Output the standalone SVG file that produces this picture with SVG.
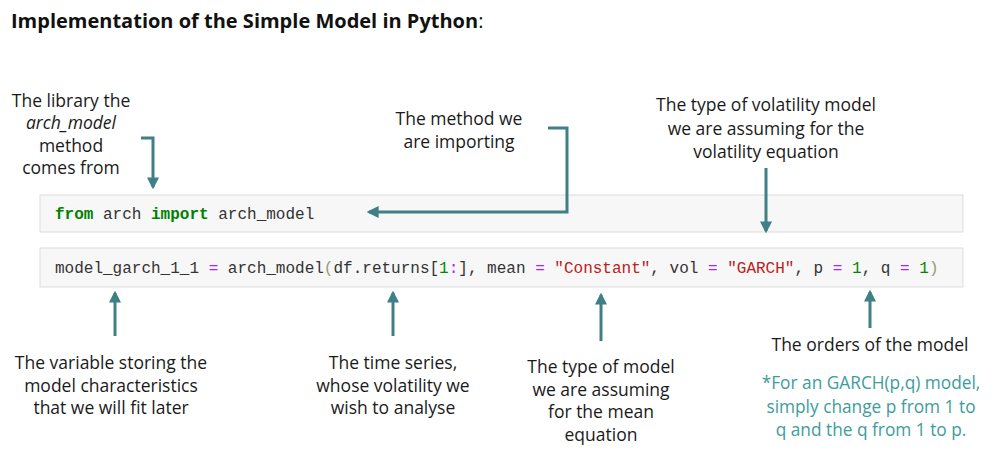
<svg xmlns="http://www.w3.org/2000/svg" width="999" height="456" viewBox="0 0 999 456">
<defs>
<marker id="ah" viewBox="0 0 10 10" refX="8" refY="5" markerWidth="4" markerHeight="4" orient="auto-start-reverse" markerUnits="strokeWidth">
<path d="M0,0 L10,5 L0,10 z" fill="#3f7f86"/>
</marker>
<style>
.t{font-family:"Open Sans","Noto Sans",sans-serif;font-size:17.5px;fill:#1a1a1a;text-anchor:middle}
.n{font-family:"Open Sans","Noto Sans",sans-serif;font-size:17.3px;fill:#3d9c9c;text-anchor:middle}
.code{font-family:"Liberation Mono","DejaVu Sans Mono",monospace;font-size:16px;fill:#333}
.kw{fill:#008000;font-weight:bold}
.op{fill:#aa22ff}
.num{fill:#008800}
.str{fill:#ba2121}
.br{fill:#999977}
.box{fill:#f7f7f7;stroke:#dddddd;stroke-width:1}
.ar{fill:none;stroke:#3f7f86;stroke-width:3;marker-end:url(#ah)}
</style>
</defs>
<rect width="999" height="456" fill="#ffffff"/>
<g id="title"><text x="11" y="28" font-family="'Open Sans','Noto Sans',sans-serif" font-size="20" fill="#111"><tspan font-weight="bold">Implementation of the Simple Model in Python</tspan>:</text></g>

<g id="code1"><rect class="box" x="40" y="195" width="923" height="37"/>
<text class="code" x="55" y="219"><tspan class="kw">from</tspan> arch <tspan class="kw">import</tspan> arch_model</text></g>

<g id="code2"><rect class="box" x="40" y="248" width="923" height="39"/>
<text class="code" x="55" y="273">model_garch_1_1 <tspan class="op">=</tspan> arch_model<tspan class="br">(</tspan>df.returns[<tspan class="num">1</tspan><tspan class="op">:</tspan>], mean <tspan class="op">=</tspan> <tspan class="str">"Constant"</tspan>, vol <tspan class="op">=</tspan> <tspan class="str">"GARCH"</tspan>, p <tspan class="op">=</tspan> <tspan class="num">1</tspan>, q <tspan class="op">=</tspan> <tspan class="num">1</tspan><tspan class="br">)</tspan></text></g>

<g id="lbl-library"><text class="t" x="71" y="107">The library the</text>
<text class="t" x="71" y="129" font-style="italic">arch_model</text>
<text class="t" x="71" y="152">method</text>
<text class="t" x="71" y="174">comes from</text></g>

<g id="lbl-method"><text class="t" x="459" y="125">The method we</text>
<text class="t" x="459" y="148">are importing</text></g>

<g id="lbl-vol"><text class="t" x="766" y="111">The type of volatility model</text>
<text class="t" x="766" y="135">we are assuming for the</text>
<text class="t" x="766" y="158">volatility equation</text></g>

<g id="lbl-var"><text class="t" x="111" y="369">The variable storing the</text>
<text class="t" x="111" y="392">model characteristics</text>
<text class="t" x="111" y="414">that we will fit later</text></g>

<g id="lbl-series"><text class="t" x="393" y="369">The time series,</text>
<text class="t" x="393" y="392">whose volatility we</text>
<text class="t" x="393" y="414">wish to analyse</text></g>

<g id="lbl-mean"><text class="t" x="601" y="373">The type of model</text>
<text class="t" x="601" y="396">we are assuming</text>
<text class="t" x="601" y="418">for the mean</text>
<text class="t" x="601" y="441">equation</text></g>

<g id="lbl-orders"><text class="t" x="870" y="351">The orders of the model</text>
<text class="n" x="871" y="389">*For an GARCH(p,q) model,</text>
<text class="n" x="871" y="413">simply change p from 1 to</text>
<text class="n" x="871" y="436">q and the q from 1 to p.</text></g>

<g id="connectors">
<path class="ar" d="M141,138 H153 V187"/>
<path class="ar" d="M548,128 H567 V212 H369"/>
<path class="ar" d="M766,168 V231"/>
<path class="ar" d="M115,336 V293"/>
<path class="ar" d="M393,336 V293"/>
<path class="ar" d="M601,341 V295"/>
<path class="ar" d="M870,328 V292"/>
</g>
</svg>
